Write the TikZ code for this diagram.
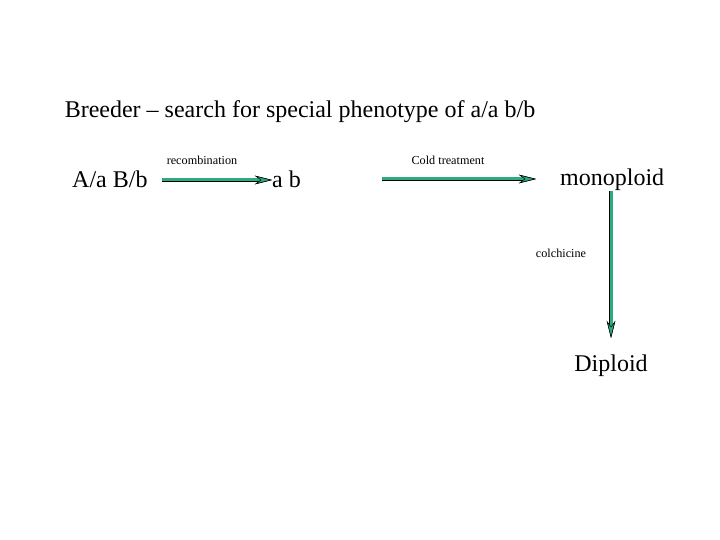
\documentclass[tikz,border=0pt]{standalone}
\usepackage{fontspec}
\setmainfont{Liberation Serif}
\usetikzlibrary{arrows.meta}
\definecolor{arrowgreen}{RGB}{45,170,130}

\tikzset{
  bigtext/.style={inner sep=0pt, font=\fontsize{24}{28}\selectfont},
  steplabel/.style={inner sep=0pt, font=\fontsize{12.2}{14}\selectfont},
  greenarrow/.style={line width=3pt, draw=arrowgreen,
    preaction={draw=black, line width=4.4pt},
    -{Stealth[length=17pt, width=8.5pt, line width=0.5pt, fill=arrowgreen, black]}},
}

\begin{document}
\begin{tikzpicture}[x=1pt, y=-1pt]
  \useasboundingbox[fill=white] (0,0) rectangle (720,540);

  \node[bigtext] (title) at (300,112) {Breeder -- search for special phenotype of a/a b/b};

  \node[bigtext, anchor=west] (aabb) at (72,179) {A/a B/b};
  \node[bigtext, anchor=west] (ab) at (272,179) {a b};
  \node[bigtext, anchor=west] (mono) at (560,180) {monoploid};
  \node[bigtext] (dip) at (611,366) {Diploid};

  \coordinate (s1) at (162,180);
  \coordinate (s2) at (382,179);
  \coordinate (e2) at (536,179);
  \coordinate (s3) at (611,191);
  \coordinate (e3) at (611,338);

  \draw[greenarrow] (s1) -- (ab.west |- s1);
  \draw[greenarrow] (s2) -- (e2);
  \draw[greenarrow] (s3) -- (e3);

  \node[steplabel] (rec) at (202,160) {recombination};
  \node[steplabel] (cold) at (448,160) {Cold treatment};
  \node[steplabel] (colch) at (561,253) {colchicine};
\end{tikzpicture}
\end{document}
